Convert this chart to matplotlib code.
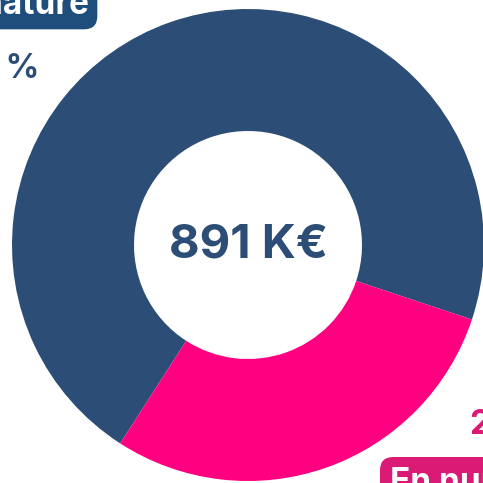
import matplotlib
matplotlib.use("Agg")
import matplotlib.pyplot as plt
from matplotlib.patches import Wedge

categories = ["En nature", "En numéraire"]
values = [71, 29]
colors = ["#2C4D76", "#FF0080"]
label_colors = ["#1F4E7C", "#DA1A74"]
total_label = "891 K€"

W = H = 483
fig = plt.figure(figsize=(4.83, 4.83), dpi=100)
ax = fig.add_axes([0, 0, 1, 1])
cx, cy = 248, 245
ax.set_xlim(-cx, W - cx)
ax.set_ylim(-(H - cy), cy)
ax.set_aspect("equal")
ax.axis("off")

R, r = 236, 114
start = -18.4
tot = sum(values)
ang = start
for v, c in zip(values, colors):
    sweep = v / tot * 360
    ax.add_patch(Wedge((0, 0), R, ang, ang + sweep, width=R - r, facecolor=c, edgecolor="none"))
    ang += sweep

font = ["Inter", "DejaVu Sans"]
ax.text(0, -1, total_label, ha="center", va="center", fontsize=34, fontweight="bold",
        color=colors[0], family=font)

def px(x, y):
    return x - cx, cy - y

# outside labels (cropped in reference)
pct = [f"{v} %" for v in values]
ax.text(*px(39, 78), pct[0], ha="right", va="baseline", fontsize=24, fontweight="bold",
        color=colors[0], family=font)
ax.text(*px(89, 14), categories[0], ha="right", va="baseline", fontsize=24, fontweight="bold",
        color="white", family=font,
        bbox=dict(boxstyle="round,pad=0.25,rounding_size=0.4", facecolor=label_colors[0], edgecolor="none"))
ax.text(*px(470, 434), pct[1], ha="left", va="baseline", fontsize=24, fontweight="bold",
        color=label_colors[1], family=font)
ax.text(*px(390, 492), categories[1], ha="left", va="baseline", fontsize=24, fontweight="bold",
        color="white", family=font,
        bbox=dict(boxstyle="round,pad=0.3,rounding_size=0.4", facecolor=label_colors[1], edgecolor="none"))

fig.savefig("out.png", dpi=100)
